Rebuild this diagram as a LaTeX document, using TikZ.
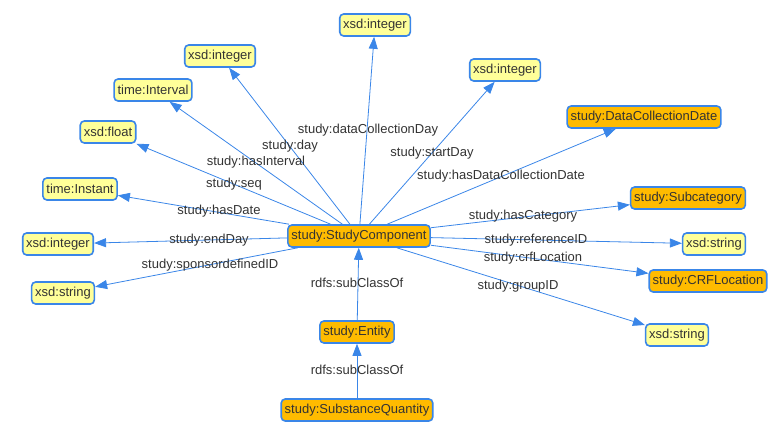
\documentclass[tikz,border=0pt]{standalone}
\usepackage{fontspec}
\setmainfont{Liberation Sans}
\usetikzlibrary{arrows.meta}
\definecolor{edgeblue}{HTML}{3A86E8}
\definecolor{litfill}{HTML}{FFFF99}
\definecolor{clsfill}{HTML}{FFBB00}
\definecolor{txt}{HTML}{333333}
\begin{document}
\begin{tikzpicture}[x=1pt,y=-1pt,
  every node/.style={font=\fontsize{13}{15}\selectfont, text=txt},
  basebox/.style={draw=edgeblue, line width=1.6pt, rounded corners=4pt, minimum height=22pt, inner xsep=3.5pt, inner ysep=2pt},
  lit/.style={basebox, fill=litfill},
  cls/.style={basebox, fill=clsfill},
  lbl/.style={inner sep=0pt},
  rel/.style={draw=edgeblue, line width=0.8pt, -{Triangle[length=12pt,width=9pt]}}]
\useasboundingbox (0,0) rectangle (778,441);
% nodes
\node[cls] (sc) at (359,236) {study:StudyComponent};
\node[cls] (ent) at (357,332) {study:Entity};
\node[cls] (sq) at (357,410) {study:SubstanceQuantity};
\node[lit] (itop) at (375,25) {xsd:integer};
\node[lit] (iday) at (220,56) {xsd:integer};
\node[lit] (tint) at (153,90) {time:Interval};
\node[lit] (flt) at (108,132) {xsd:float};
\node[lit] (tins) at (80,189) {time:Instant};
\node[lit] (iend) at (58,244) {xsd:integer};
\node[lit] (sspon) at (63,293) {xsd:string};
\node[lit] (istart) at (505,70) {xsd:integer};
\node[cls] (dcd) at (644,117) {study:DataCollectionDate};
\node[cls] (sub) at (688,198) {study:Subcategory};
\node[lit] (sref) at (714,244) {xsd:string};
\node[cls] (crf) at (708,281) {study:CRFLocation};
\node[lit] (sgrp) at (677,335) {xsd:string};
% edges
\draw[rel] (sc) -- (itop);
\draw[rel] (sc) -- (iday);
\draw[rel] (sc) -- (tint);
\draw[rel] (sc) -- (flt);
\draw[rel] (sc) -- (tins);
\draw[rel] (sc) -- (iend);
\draw[rel] (sc) -- (sspon);
\draw[rel] (sc) -- (istart);
\draw[rel] (sc) -- (dcd);
\draw[rel] (sc) -- (sub);
\draw[rel] (sc) -- (sref);
\draw[rel] (sc) -- (crf);
\draw[rel] (sc) -- (sgrp);
\draw[rel] (ent) -- (sc);
\draw[rel] (sq) -- (ent);
% labels
\node[lbl] at (368,130) {study:dataCollectionDay};
\node[lbl] at (290,146) {study:day};
\node[lbl] at (256,162) {study:hasInterval};
\node[lbl] at (234,184) {study:seq};
\node[lbl] at (219,211) {study:hasDate};
\node[lbl] at (209,240) {study:endDay};
\node[lbl] at (210,265) {study:sponsordefinedID};
\node[lbl] at (432,153) {study:startDay};
\node[lbl] at (501,176) {study:hasDataCollectionDate};
\node[lbl] at (523,216) {study:hasCategory};
\node[lbl] at (536,240) {study:referenceID};
\node[lbl] at (533,258) {study:crfLocation};
\node[lbl] at (518,286) {study:groupID};
\node[lbl] at (357,283) {rdfs:subClassOf};
\node[lbl] at (357,370) {rdfs:subClassOf};
\end{tikzpicture}
\end{document}
